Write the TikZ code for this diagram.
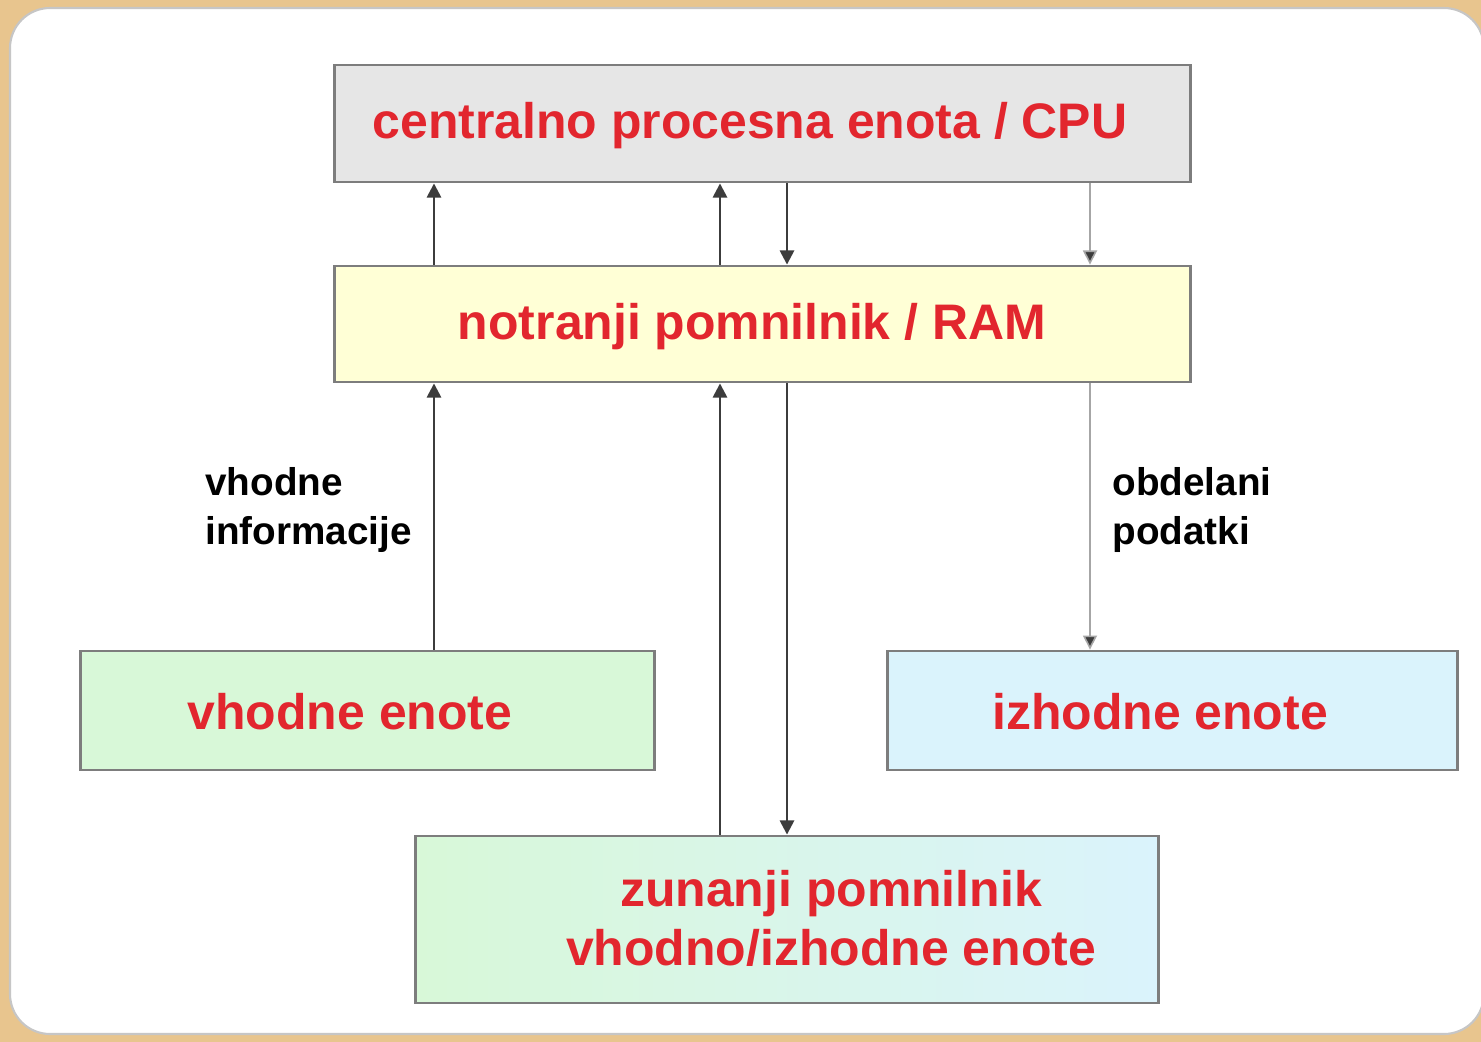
\documentclass[tikz,border=0pt]{standalone}
\usepackage{fontspec}
\setmainfont{Liberation Sans}
\usetikzlibrary{arrows.meta}

\definecolor{frametan}{RGB}{232,197,142}
\definecolor{boxline}{RGB}{125,125,125}
\definecolor{linegray}{RGB}{60,60,60}
\definecolor{unitred}{RGB}{226,38,46}
\definecolor{cpufill}{RGB}{230,230,230}
\definecolor{ramfill}{RGB}{255,255,214}
\definecolor{infill}{RGB}{216,248,216}
\definecolor{outfill}{RGB}{218,243,252}

\begin{document}
\begin{tikzpicture}[x=0.01cm,y=-0.01cm,
  box/.style={draw=boxline, line width=0.8pt, inner sep=0pt},
  big/.style={text=unitred, font=\fontsize{14.2}{16.8}\selectfont\bfseries, align=center},
  note/.style={font=\fontsize{11}{13.7}\selectfont\bfseries, align=left, anchor=west},
  link/.style={draw=linegray, line width=0.7pt, -{Triangle[length=4pt,width=4pt]}},
  thinlink/.style={draw=gray!70, line width=0.45pt, -{Triangle[length=4pt,width=4pt,fill=linegray]}}]
% frame
\clip (0,0) rectangle (1481,1042);
\fill[frametan] (0,0) rectangle (1481,1042);
\filldraw[fill=white, draw=gray!45, line width=0.6pt, rounded corners=0.4cm] (10,8) rectangle (1484,1034);
% units
\node[box, fill=cpufill, minimum width=8.55cm, minimum height=1.17cm] (cpu) at (762.5,123.5) {};
\node[box, fill=ramfill, minimum width=8.55cm, minimum height=1.16cm] (ram) at (762.5,324) {};
\node[box, fill=infill, minimum width=5.73cm, minimum height=1.19cm] (vin) at (367.5,710.5) {};
\node[box, fill=outfill, minimum width=5.69cm, minimum height=1.19cm] (vout) at (1172.5,710.5) {};
\node[box, left color=infill, right color=outfill, minimum width=7.42cm, minimum height=1.67cm] (zun) at (787,919.5) {};
% texts
\node[big] (cputxt) at (750,126) {centralno procesna enota / CPU};
\node[big] (ramtxt) at (752,327) {notranji pomnilnik / RAM};
\node[big] (vintxt) at (350,712) {vhodne enote};
\node[big] (vouttxt) at (1160,712) {izhodne enote};
\node[big] (zuntxt) at (831,918) {zunanji pomnilnik\\vhodno/izhodne enote};
\node[note] (inlbl) at (193,510) {vhodne\\informacije};
\node[note] (outlbl) at (1100,510) {obdelani\\podatki};
% columns
\coordinate (c1) at (434,0);
\coordinate (c2) at (720,0);
\coordinate (c3) at (787,0);
\coordinate (c4) at (1090,0);
% arrows
\draw[link] (ram.north -| c1) -- (cpu.south -| c1);
\draw[link] (ram.north -| c2) -- (cpu.south -| c2);
\draw[link] (cpu.south -| c3) -- (ram.north -| c3);
\draw[thinlink] (cpu.south -| c4) -- (ram.north -| c4);
\draw[link] (vin.north -| c1) -- (ram.south -| c1);
\draw[link] (zun.north -| c2) -- (ram.south -| c2);
\draw[link] (ram.south -| c3) -- (zun.north -| c3);
\draw[thinlink] (ram.south -| c4) -- (vout.north -| c4);
\end{tikzpicture}
\end{document}
